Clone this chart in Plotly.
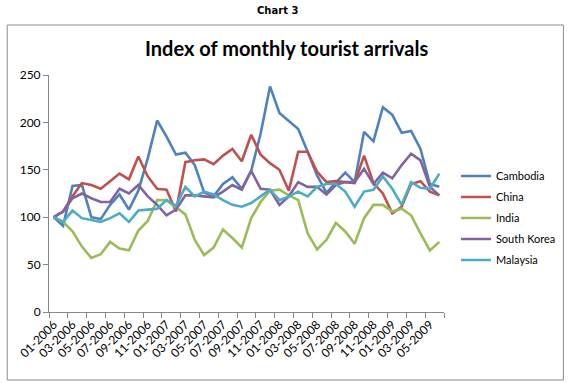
import plotly.graph_objects as go

months = ["01-2006","02-2006","03-2006","04-2006","05-2006","06-2006","07-2006","08-2006","09-2006","10-2006","11-2006","12-2006",
          "01-2007","02-2007","03-2007","04-2007","05-2007","06-2007","07-2007","08-2007","09-2007","10-2007","11-2007","12-2007",
          "01-2008","02-2008","03-2008","04-2008","05-2008","06-2008","07-2008","08-2008","09-2008","10-2008","11-2008","12-2008",
          "01-2009","02-2009","03-2009","04-2009","05-2009","06-2009"]

cambodia = [100, 91, 133, 134, 100, 98, 113, 124, 108, 128, 162, 202,
            185, 166, 168, 155, 126, 122, 135, 142, 130, 149, 188, 238,
            210, 202, 193, 169, 144, 126, 137, 147, 137, 190, 180, 216,
            208, 189, 191, 172, 135, 132]
china = [100, 106, 122, 136, 134, 130, 138, 146, 140, 164, 143, 130,
         129, 106, 158, 160, 161, 156, 165, 172, 159, 187, 166, 157,
         150, 128, 169, 169, 148, 137, 138, 137, 136, 165, 136, 125,
         104, 111, 135, 138, 127, 123]
india = [100, 95, 85, 69, 57, 61, 74, 67, 65, 86, 96, 118,
         118, 110, 103, 76, 60, 68, 87, 78, 68, 99, 116, 128,
         129, 123, 118, 83, 66, 76, 94, 85, 72, 99, 113, 113,
         106, 109, 102, 83, 65, 74]
south_korea = [100, 106, 120, 125, 120, 116, 116, 130, 125, 134, 122, 113,
               102, 108, 123, 123, 122, 121, 127, 134, 129, 149, 130, 129,
               113, 122, 137, 132, 132, 124, 134, 137, 137, 151, 135, 147,
               141, 155, 167, 160, 132, 123]
malaysia = [100, 95, 107, 99, 97, 95, 99, 104, 95, 107, 108, 109,
            118, 112, 132, 122, 127, 124, 118, 113, 111, 115, 122, 129,
            118, 122, 127, 122, 132, 135, 135, 127, 111, 127, 129, 143,
            130, 113, 137, 131, 130, 146]

series = [("Cambodia", cambodia, "#4F81BD"),
          ("China", china, "#C0504D"),
          ("India", india, "#9BBB59"),
          ("South Korea", south_korea, "#8064A2"),
          ("Malaysia", malaysia, "#4BACC6")]

y_ticks = [0, 50, 100, 150, 200, 250]

xs = list(range(len(months)))

FONT = "Lato, Liberation Sans, Arial, sans-serif"

fig = go.Figure()
for name, vals, col in series:
    fig.add_trace(go.Scatter(x=xs, y=vals, mode="lines", name=name, legendgroup=name,
                             line=dict(color=col, width=2.6)))

W, H = 573, 383
L, R, T, B = 49, 446, 75, 312

def px_x(p):
    return (p - L) / (R - L)

def px_y(p):
    return (B - p) / (B - T)

fig.update_layout(
    width=W, height=H,
    margin=dict(l=L, r=W - R, t=T, b=H - B),
    paper_bgcolor="white", plot_bgcolor="white",
    font=dict(family=FONT, size=11, color="#000000"),
    showlegend=True,
    legend=dict(x=px_x(458), xanchor="left", y=px_y(218), yanchor="middle",
                font=dict(family=FONT, size=11), bgcolor="rgba(0,0,0,0)",
                traceorder="grouped", tracegroupgap=2),
    xaxis=dict(range=[-0.5, len(months) - 0.5], tickmode="array",
               tickvals=xs[::2], ticktext=months[::2], tickangle=-45,
               ticks="outside", ticklen=0, showgrid=False, zeroline=False,
               showline=True, linecolor="#868686", linewidth=1,
               tickfont=dict(family=FONT, size=12),
               minor=dict(tickmode="linear", tick0=-0.5, dtick=2, ticks="outside",
                          ticklen=5, tickcolor="#868686", showgrid=False)),
    yaxis=dict(range=[0, 250], tickmode="array", tickvals=y_ticks,
               ticks="outside", ticklen=5, tickcolor="#868686",
               showgrid=False, zeroline=False, showline=True,
               linecolor="#868686", linewidth=1,
               tickfont=dict(family=FONT, size=12)),
)

# chart border
fig.add_shape(type="rect", xref="paper", yref="paper",
              x0=px_x(7), x1=px_x(566), y0=px_y(380), y1=px_y(25),
              line=dict(color="#8c8c8c", width=1), fillcolor="rgba(0,0,0,0)", layer="below")

fig.add_annotation(text="<b>Index of monthly tourist arrivals</b>", xref="paper", yref="paper",
                   x=px_x(288), y=px_y(48), xanchor="center", yanchor="middle",
                   showarrow=False, font=dict(family=FONT, size=20, color="#000000"))
fig.add_annotation(text="<b>Chart 3</b>", xref="paper", yref="paper",
                   x=px_x(279), y=px_y(10), xanchor="center", yanchor="middle",
                   showarrow=False, font=dict(family="DejaVu Sans", size=10, color="#000000"))

fig.write_html("out.html", config={"displayModeBar": False},
               post_script="document.body.style.margin='0';")
